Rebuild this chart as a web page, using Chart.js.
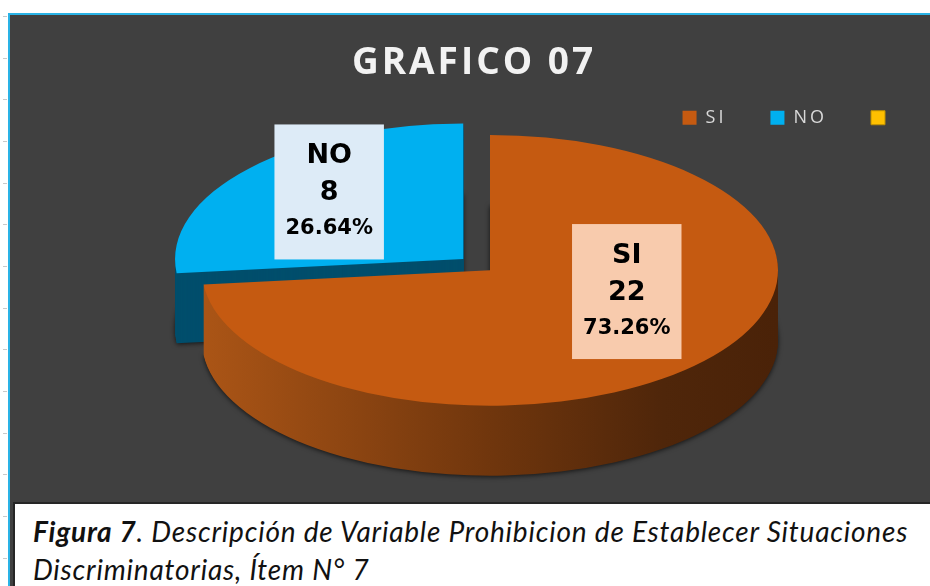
<!DOCTYPE html>
<html>
<head>
<meta charset="UTF-8" />
<script src="https://cdn.jsdelivr.net/npm/chart.js@4.4.1/dist/chart.umd.min.js"></script>
<style>
  html, body { margin: 0; padding: 0; width: 930px; height: 586px; overflow: hidden; background: #fff; }
  #ruler { position: absolute; left: 3px; top: 0; width: 4px; height: 586px;
    background: repeating-linear-gradient(to bottom, transparent 0, transparent 16px, #c9c9c9 16px, #c9c9c9 17px, transparent 17px, transparent 41.67px); }
  #frame { position: absolute; left: 8px; top: 13px; width: 940px; height: 600px; background: #404040;
    border-top: 2px solid #2ab3e6; border-left: 2px solid #2ab3e6; }
  #chartBox { position: absolute; left: 10px; top: 15px; width: 928px; height: 488px; }
  #caption { position: absolute; left: 13px; top: 502px; width: 940px; height: 100px; box-sizing: border-box;
    background: #fff; border-top: 2px solid #262626; border-left: 2px solid #262626;
    padding: 8px 0 0 18px; font-family: Lato, "Open Sans", sans-serif; font-style: italic;
    font-size: 28px; letter-spacing: 0.8px; line-height: 38px; color: #111; white-space: nowrap; }
</style>
</head>
<body>
<div id="ruler"></div>
<div id="frame"></div>
<div id="chartBox"><canvas id="myChart" width="928" height="488"></canvas></div>
<div id="caption"><b>Figura 7</b>. Descripción de Variable Prohibicion de Establecer Situaciones<br>Discriminatorias, Ítem N° 7</div>
<script>
// data
const categories = ['SI', 'NO', ''];
const counts = [22, 8, 0];
const percentLabels = ['73.26%', '26.64%', ''];

// styles
const topColors = ['#c55a11', '#00b0f0', '#ffc000'];
const edgeColors = ['#c55a11', '#00b0f0', '#bf9000'];
const boxColors = ['#f8cbad', '#ddebf7', '#fff2cc'];
const labelAngleFrac = [0.41, 0.55, 0.5];
const labelRadiusFrac = [0.50, 0.68, 0.5];
const SQUASH = 0.47;
const DEPTH = 70;

// narrows the pie area on the left so the pie sits right of the title centre
const leftSpacer = {
  id: 'leftSpacer',
  beforeInit(chart) {
    if (!Chart.layouts) return;
    Chart.layouts.addBox(chart, {
      position: 'left', weight: 0, fullSize: false, options: {},
      width: 0, height: 0,
      isHorizontal() { return false; },
      update(maxW, maxH) { this.width = 32; this.height = maxH; },
      draw() {}
    });
  }
};

// expanded text for title and legend
const spaced = {
  id: 'spaced',
  beforeLayout(chart) { chart.ctx.letterSpacing = '3px'; },
  afterLayout(chart) { chart.ctx.letterSpacing = '0px'; },
  beforeDraw(chart) { chart.ctx.letterSpacing = '3px'; }
};

function sideFill(ctx, i, cx, r) {
  if (i === 0) {
    const g = ctx.createLinearGradient(cx - r, 0, cx + r, 0);
    g.addColorStop(0, '#ab5516');
    g.addColorStop(0.5, '#70360d');
    g.addColorStop(0.8, '#4f260a');
    g.addColorStop(1, '#4a2208');
    return g;
  }
  if (i === 1) return '#004e6c';
  return '#bf9000';
}

// tilt the pie and give it a side wall, then the labels
const pie3d = {
  id: 'pie3d',
  beforeDatasetsDraw(chart) {
    const ctx = chart.ctx;
    ctx.letterSpacing = '0px';
    const arcs = chart.getDatasetMeta(0).data;
    const cx = arcs[0].x, cy = arcs[0].y, r = arcs[0].outerRadius;
    ctx.save();
    ctx.translate(cx, cy);
    ctx.scale(1, SQUASH);
    ctx.translate(-cx, -cy);
    const fills = arcs.map((a, i) => sideFill(ctx, i, cx, r));
    for (let d = DEPTH; d >= 1; d--) {
      ctx.save();
      ctx.translate(0, d / SQUASH);
      if (d === DEPTH) {
        ctx.shadowColor = 'rgba(0,0,0,0.7)';
        ctx.shadowBlur = 5;
        ctx.shadowOffsetY = 1;
      }
      arcs.forEach((arc, i) => {
        const side = Object.create(arc);
        side.options = Object.assign({}, arc.options, {backgroundColor: fills[i], borderWidth: 0});
        side.draw(ctx);
      });
      ctx.restore();
    }
  },
  afterDatasetsDraw(chart) {
    const ctx = chart.ctx;
    ctx.restore();
    const arcs = chart.getDatasetMeta(0).data;
    arcs.forEach((arc, i) => {
      if (!counts[i]) return;
      const off = (arc.options.offset || 0) / 4;
      const mid = (arc.startAngle + arc.endAngle) / 2;
      const a = arc.startAngle + labelAngleFrac[i] * (arc.endAngle - arc.startAngle);
      const rr = labelRadiusFrac[i] * arc.outerRadius;
      const px = arc.x + Math.cos(mid) * off + Math.cos(a) * rr;
      const py = arc.y + (Math.sin(mid) * off + Math.sin(a) * rr) * SQUASH;
      ctx.save();
      ctx.font = 'bold 21px "DejaVu Sans"';
      const w = ctx.measureText(percentLabels[i]).width + 22;
      const h = 135;
      ctx.fillStyle = boxColors[i];
      ctx.fillRect(px - w / 2, py - h / 2, w, h);
      ctx.fillStyle = '#000';
      ctx.textAlign = 'center';
      ctx.textBaseline = 'middle';
      ctx.font = 'bold 27px "DejaVu Sans"';
      ctx.fillText(categories[i], px, py - 36);
      ctx.fillText(String(counts[i]), px, py + 1);
      ctx.font = 'bold 21px "DejaVu Sans"';
      ctx.fillText(percentLabels[i], px, py + 37);
      ctx.restore();
    });
  }
};

const data = {
  labels: categories,
  datasets: [{
    data: counts,
    backgroundColor: topColors,
    borderColor: edgeColors,
    borderWidth: [0, 0, 1],
    offset: [0, 144, 0],
    radius: 288
  }]
};

const config = {
  type: 'pie',
  data: data,
  options: {
    responsive: false,
    animation: false,
    events: [],
    radius: 288,
    layout: { padding: { bottom: 99 } },
    plugins: {
      title: {
        display: true,
        text: 'GRAFICO 07',
        color: '#f2f2f2',
        font: { family: 'Open Sans', size: 37, weight: 'bold', lineHeight: 0.02 },
        padding: { top: 48, bottom: 1 }
      },
      legend: {
        position: 'top',
        align: 'end',
        labels: {
          color: '#d9d9d9',
          font: { family: 'Open Sans', size: 18 },
          boxWidth: 14,
          boxHeight: 14,
          padding: 44
        }
      },
      tooltip: { enabled: false }
    }
  },
  plugins: [leftSpacer, spaced, pie3d]
};

var myChart = new Chart(document.getElementById('myChart'), config);
</script>
</body>
</html>
